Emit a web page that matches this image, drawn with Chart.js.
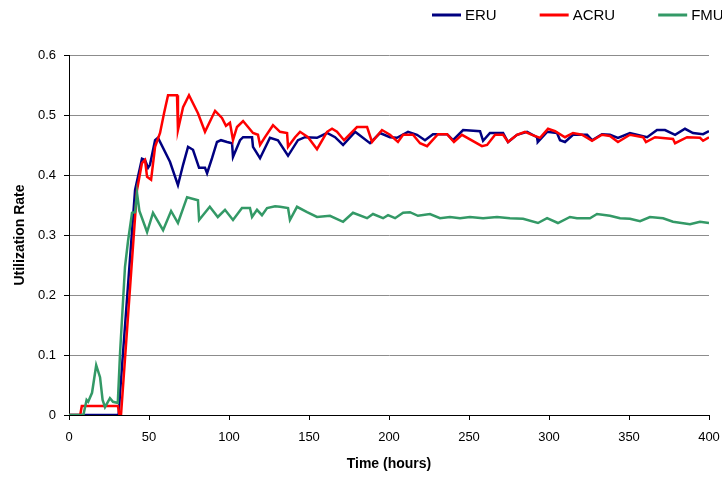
<!DOCTYPE html>
<html>
<head>
<meta charset="utf-8">
<script src="https://cdn.jsdelivr.net/npm/chart.js@4/dist/chart.umd.min.js"></script>
<style>
  html, body { margin: 0; padding: 0; background: #fff; overflow: hidden; }
  #wrap { width: 722px; height: 477px; position: relative; }
</style>
</head>
<body>
<div id="wrap"><canvas id="cUtil"></canvas></div>
<script>
// ---- data (hours, utilization) ----
const seriesNames = ['ERU', 'ACRU', 'FMU'];
const seriesColors = ['#000080', '#ff0000', '#339966'];

const eruT = [0, 31, 32, 41.3, 45.6, 47.5, 49.4, 50.6, 53.8, 55.6, 63.1, 68.1, 71.3, 74.4, 77.5, 81.3, 85, 86.3, 89.4, 92.5,
  95, 98.8, 101.9, 102.5, 106.9, 108.8, 114.4, 115, 119.4, 125.6, 130.6, 136.9, 143.1, 147.5, 155, 161.3, 166.3, 171.3, 178.8, 188.1,
  194.4, 200.6, 205, 211.9, 217.5, 222.5, 227.5, 236.3, 240, 246.3, 256.9, 258.8, 263.1, 271.3, 274.4, 280, 286.3, 292.5, 293, 298.8,
  305, 306.9, 310, 315, 323.8, 326.9, 333.1, 338.1, 343.1, 350.6, 361.3, 367.5, 372.5, 378.8, 385, 390, 396.3, 400];
const eruV = [0, 0, 0.04, 0.375, 0.427, 0.425, 0.412, 0.417, 0.458, 0.462, 0.422, 0.383, 0.417, 0.447, 0.442, 0.412, 0.412, 0.403, 0.428, 0.455,
  0.458, 0.455, 0.453, 0.43, 0.458, 0.463, 0.463, 0.447, 0.428, 0.462, 0.458, 0.432, 0.458, 0.463, 0.462, 0.47, 0.463, 0.45, 0.472, 0.453,
  0.47, 0.463, 0.462, 0.472, 0.467, 0.458, 0.468, 0.468, 0.458, 0.475, 0.473, 0.457, 0.47, 0.47, 0.455, 0.467, 0.472, 0.463, 0.455, 0.472,
  0.47, 0.458, 0.455, 0.467, 0.467, 0.458, 0.468, 0.467, 0.462, 0.47, 0.463, 0.475, 0.475, 0.467, 0.477, 0.47, 0.468, 0.473];

const acruT = [0, 7, 8, 30.6, 31.5, 32.5, 42.5, 45.6, 47.5, 48.8, 51.3, 53.8, 56.9, 59.4, 61.9, 67.5, 68.1, 71.3, 75, 80.6,
  85, 91.3, 95.6, 98.1, 100.6, 102.5, 105, 108.8, 111.9, 115, 118.1, 119.4, 122.5, 127.5, 131.9, 136.3, 136.9, 141.3, 144.4, 149.4,
  155, 161.3, 164.4, 167.5, 171.9, 180, 186.3, 189.4, 195.6, 200.6, 205.6, 208.8, 215, 219.4, 223.8, 230.6, 236.3, 240.6, 245.6, 258.1,
  261.3, 266.3, 271.3, 274.4, 280, 285, 289.4, 294.4, 299.4, 303.8, 310, 315, 320.6, 326.9, 333.1, 338.1, 343.1, 350.6, 358.8, 360.6,
  366.3, 377.5, 378.8, 386.3, 394.4, 396.3, 400];
const acruV = [0, 0, 0.015, 0.015, 0, 0, 0.375, 0.42, 0.425, 0.397, 0.392, 0.447, 0.47, 0.503, 0.533, 0.533, 0.475, 0.513, 0.533, 0.503,
  0.472, 0.507, 0.495, 0.482, 0.487, 0.458, 0.48, 0.49, 0.48, 0.47, 0.467, 0.45, 0.463, 0.483, 0.472, 0.47, 0.447, 0.463, 0.472, 0.463,
  0.443, 0.472, 0.477, 0.472, 0.458, 0.48, 0.48, 0.455, 0.475, 0.467, 0.455, 0.467, 0.467, 0.453, 0.448, 0.468, 0.468, 0.455, 0.467, 0.448,
  0.45, 0.467, 0.467, 0.455, 0.467, 0.472, 0.467, 0.462, 0.477, 0.473, 0.463, 0.47, 0.467, 0.457, 0.467, 0.465, 0.455, 0.467, 0.463, 0.455,
  0.463, 0.46, 0.453, 0.463, 0.462, 0.457, 0.463];

const fmuT = [0, 9, 11, 12, 14.4, 17, 19.4, 21, 22.5, 25.6, 27.5, 30.5, 31.9, 35, 36.9, 39.4, 41.3, 42.5, 44, 48.8,
  52.5, 58.8, 63.8, 68.1, 73.8, 80.6, 81.3, 88, 93, 97.5, 102.5, 108.1, 113.1, 114.4, 117.5, 120.6, 123.8, 128.8, 131.9, 136.9,
  138.1, 142.5, 148.8, 155, 163.1, 171.3, 177.5, 186.3, 190, 196.3, 199.4, 203.8, 208.8, 213.1, 218.1, 225.6, 231.9, 238.1, 244.4, 250.6,
  258.8, 267.5, 275.6, 283.8, 293.1, 298.8, 305.6, 313.1, 317.5, 325.6, 330, 338.1, 344.4, 350.6, 356.9, 363.1, 371.3, 377.5, 388.1, 394.4, 400];
const fmuV = [0, 0, 0.025, 0.022, 0.037, 0.083, 0.063, 0.025, 0.013, 0.028, 0.022, 0.02, 0.103, 0.247, 0.29, 0.337, 0.338, 0.37, 0.34, 0.305,
  0.337, 0.308, 0.34, 0.32, 0.363, 0.358, 0.325, 0.347, 0.33, 0.342, 0.325, 0.345, 0.345, 0.33, 0.342, 0.333, 0.345, 0.348, 0.347, 0.345,
  0.325, 0.347, 0.338, 0.33, 0.332, 0.322, 0.337, 0.328, 0.335, 0.328, 0.333, 0.328, 0.337, 0.338, 0.332, 0.335, 0.328, 0.33, 0.328, 0.33,
  0.328, 0.33, 0.328, 0.327, 0.32, 0.328, 0.32, 0.33, 0.328, 0.328, 0.335, 0.332, 0.328, 0.327, 0.323, 0.33, 0.328, 0.322, 0.318, 0.322, 0.32];

const xTicks = { min: 0, max: 400, step: 50 };
const yTicks = { min: 0, max: 0.6, step: 0.1 };

const FONT = "'Liberation Sans', Arial, sans-serif";

function pairs(ts, vs) {
  return ts.map((t, i) => ({ x: t, y: vs[i] }));
}

// legend drawn by hand, top right, same look as the office chart
const legendKanan = {
  id: 'legendKanan',
  afterDraw(chart) {
    const ctx = chart.ctx;
    ctx.save();
    ctx.font = '15px ' + FONT;
    ctx.textBaseline = 'middle';
    let x = 432;
    const y = 15;
    seriesNames.forEach((nama, i) => {
      ctx.strokeStyle = seriesColors[i];
      ctx.lineWidth = 3;
      ctx.beginPath();
      ctx.moveTo(x, y);
      ctx.lineTo(x + 29, y);
      ctx.stroke();
      ctx.fillStyle = '#000';
      ctx.fillText(nama, x + 33, y + 1);
      x += 33 + ctx.measureText(nama).width + 43;
    });
    ctx.restore();
  }
};

const datasets = [
  { label: 'ERU', data: pairs(eruT, eruV), order: 2 },
  { label: 'ACRU', data: pairs(acruT, acruV), order: 1 },
  { label: 'FMU', data: pairs(fmuT, fmuV), order: 0 }
].map((d, i) => Object.assign(d, {
  borderColor: seriesColors[i],
  backgroundColor: seriesColors[i],
  borderWidth: 2.5,
  pointRadius: 0,
  tension: 0,
  fill: false
}));

new Chart(document.getElementById('cUtil'), {
  type: 'line',
  data: { datasets: datasets },
  options: {
    responsive: true,
    maintainAspectRatio: false,
    animation: false,
    layout: { padding: { top: 55, left: 0, right: 0, bottom: 0 } },
    plugins: { legend: { display: false }, tooltip: { enabled: false } },
    scales: {
      x: {
        type: 'linear',
        min: xTicks.min, max: xTicks.max,
        ticks: { stepSize: xTicks.step, color: '#000', padding: 10, font: { family: FONT, size: 13 } },
        grid: { drawOnChartArea: false, tickColor: '#000', tickLength: 5 },
        border: { color: '#000', width: 1 },
        title: { display: true, text: 'Time (hours)', color: '#000', font: { family: FONT, size: 14, weight: 'bold' }, padding: { top: 4, bottom: 4 } },
        afterFit(scale) { scale.height = 62; scale.paddingLeft = 0; scale.paddingRight = 13; }
      },
      y: {
        min: yTicks.min, max: yTicks.max,
        ticks: { stepSize: yTicks.step, color: '#000', padding: 8, font: { family: FONT, size: 13 } },
        grid: { color: '#8c8c8c', tickColor: '#000', tickLength: 5, lineWidth: 1 },
        border: { color: '#000', width: 1 },
        title: { display: true, text: 'Utilization Rate', color: '#000', font: { family: FONT, size: 14, weight: 'bold' }, padding: { top: 12, bottom: 0 } },
        afterFit(scale) { scale.width = 69; scale.paddingTop = 0; scale.paddingBottom = 0; }
      }
    }
  },
  plugins: [legendKanan]
});
</script>
</body>
</html>
